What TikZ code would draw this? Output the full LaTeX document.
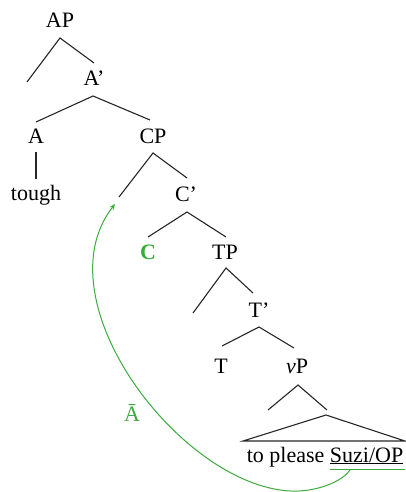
\documentclass[tikz,border=0pt]{standalone}
\usepackage{fontspec}
\setmainfont{Liberation Serif}
\usetikzlibrary{arrows.meta}
\definecolor{trgreen}{RGB}{60,170,60}
\begin{document}
\begin{tikzpicture}[x=1pt,y=-1pt,
  lbl/.style={anchor=base,inner sep=0pt,font=\fontsize{22}{26}\selectfont},
  br/.style={line width=1.1pt,black!85},
  mv/.style={trgreen,line width=1pt}]
\useasboundingbox (0,0) rectangle (406,492);
% labels
\node[lbl] (AP) at (60,28) {AP};
\node[lbl] (Ab) at (94,86) {A’};
\node[lbl] (A) at (36,143) {A};
\node[lbl] (tough) at (36,200) {tough};
\node[lbl] (CP) at (153,143) {CP};
\node[lbl] (Cb) at (186,201) {C’};
\node[lbl,text=trgreen] (C) at (148,259) {\textbf{C}};
\node[lbl] (TP) at (225,259) {TP};
\node[lbl] (Tb) at (259,317) {T’};
\node[lbl] (T) at (221,373) {T};
\node[lbl] (vP) at (297,373) {\textit{v}P};
\node[lbl] (str) at (325,462) {to please \underline{Suzi/OP}};
\node[lbl,text=trgreen] (Abar) at (132,421) {\=A};
% branch points
\coordinate (APa) at (60,38);  \coordinate (APl) at (27,82);  \coordinate (APr) at (94,63);
\coordinate (Aba) at (93,96);  \coordinate (Abl) at (36,122); \coordinate (Abr) at (150,120);
\coordinate (Aa) at (36,152);  \coordinate (Ad) at (36,179);
\coordinate (CPa) at (153,153); \coordinate (CPl) at (119,197); \coordinate (CPr) at (187,178);
\coordinate (Cba) at (187,212); \coordinate (Cbl) at (148,237); \coordinate (Cbr) at (226,237);
\coordinate (TPa) at (226,268); \coordinate (TPl) at (193,313); \coordinate (TPr) at (253,293);
\coordinate (Tba) at (259,327); \coordinate (Tbl) at (222,346); \coordinate (Tbr) at (294,348);
\coordinate (vPa) at (298,385); \coordinate (vPl) at (268,410); \coordinate (vPr) at (327,410);
\coordinate (tri) at (326,415); \coordinate (tril) at (243,441); \coordinate (trir) at (405,441);
\coordinate (ulA) at (330,469); \coordinate (ulB) at (405,469);
\coordinate (mvs) at (350,470); \coordinate (mvb) at (290,491); \coordinate (mve) at (115,204);
% branches
\draw[br] (APl) -- (APa) -- (APr);
\draw[br] (Abl) -- (Aba) -- (Abr);
\draw[br] (Aa) -- (Ad);
\draw[br] (CPl) -- (CPa) -- (CPr);
\draw[br] (Cbl) -- (Cba) -- (Cbr);
\draw[br] (TPl) -- (TPa) -- (TPr);
\draw[br] (Tbl) -- (Tba) -- (Tbr);
\draw[br] (vPl) -- (vPa) -- (vPr);
\draw[br,line join=miter] (tril) -- (tri) -- (trir) -- cycle;
% movement
\draw[mv] (ulA) -- (ulB);
\draw[mv,-{Stealth[length=6pt,width=5pt]}] (mvs) .. controls (342,482) and (315,492.4) .. (mvb)
  .. controls (180,485) and (40,300) .. (mve);
\end{tikzpicture}
\end{document}
